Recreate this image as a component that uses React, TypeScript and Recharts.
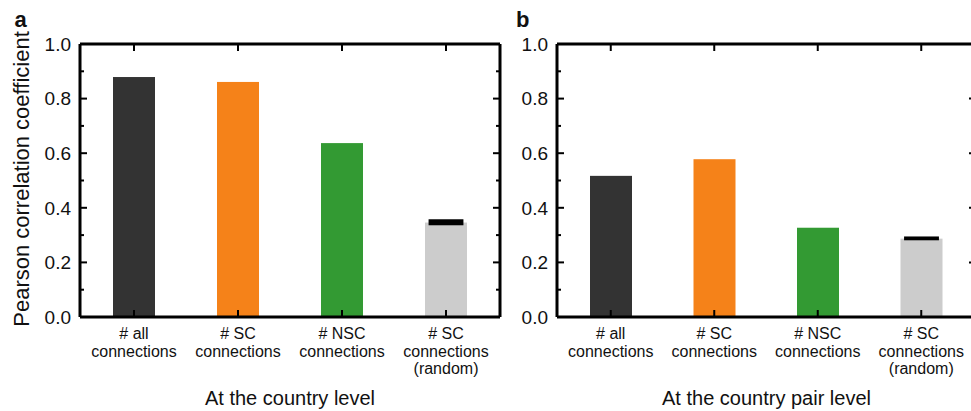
import React from "react";
import { BarChart, Bar, XAxis, YAxis, Cell } from "recharts";

// ---------- data ----------
const categories = ["all", "SC", "NSC", "SC random"];
const categoryLines = [
  ["# all", "connections"],
  ["# SC", "connections"],
  ["# NSC", "connections"],
  ["# SC", "connections", "(random)"],
];
const countryLevel = [0.879, 0.861, 0.637, 0.346];
const countryRandomLow = [null, null, null, 0.336];
const countryRandomHigh = [null, null, null, 0.358];
const countryPairLevel = [0.517, 0.578, 0.327, 0.287];
const countryPairRandomLow = [null, null, null, 0.281];
const countryPairRandomHigh = [null, null, null, 0.295];
const yTicks = [0, 0.1, 0.2, 0.3, 0.4, 0.5, 0.6, 0.7, 0.8, 0.9, 1.0];
const panelTitles = ["At the country level", "At the country pair level"];
const panelLetters = ["a", "b"];
const yAxisTitle = "Pearson correlation coefficient";

// ---------- styles ----------
const barColors = ["#333333", "#f58219", "#339a33", "#cccccc"];
const FONT = '"Liberation Sans", Arial, Helvetica, sans-serif';
const AXIS_W = 3;
const TICK_W = 2;

const buildRows = (values: number[], low: (number | null)[], high: (number | null)[]) =>
  categories.map((name, i) => ({
    name,
    value: values[i],
    low: low[i],
    high: high[i],
  }));

const isMajor = (v: number) => Math.round(v * 10) % 2 === 0;

const BarWithRange = (props: any) => {
  const { x, y, width, height, fill, payload } = props;
  const v = payload.value;
  const base = y + height;
  const pxPerUnit = v ? height / v : 0;
  const hasRange = payload.low != null && payload.high != null;
  const rangeW = width * 0.83;
  return (
    <g>
      <rect x={x} y={y} width={width} height={height} fill={fill} />
      {hasRange && (
        <rect
          x={x + (width - rangeW) / 2}
          y={base - payload.high * pxPerUnit}
          width={rangeW}
          height={(payload.high - payload.low) * pxPerUnit}
          fill="#000"
        />
      )}
    </g>
  );
};

const LeftTick = (props: any) => {
  const { x, y, payload } = props;
  const v = payload.value;
  const major = isMajor(v);
  return (
    <g>
      <line x1={x} x2={x + (major ? 7 : 4)} y1={y} y2={y} stroke="#000" strokeWidth={TICK_W} />
      {major && (
        <text x={x - 9} y={y} dy="0.36em" textAnchor="end" fontSize={19} fontFamily={FONT} fill="#111">
          {v.toFixed(1)}
        </text>
      )}
    </g>
  );
};

const RightTick = (props: any) => {
  const { x, y, payload } = props;
  const major = isMajor(payload.value);
  return <line x1={x} x2={x - (major ? 7 : 4)} y1={y} y2={y} stroke="#000" strokeWidth={TICK_W} />;
};

const BottomTick = (props: any) => {
  const { x, y, payload } = props;
  const idx = categories.indexOf(payload.value);
  const lines = categoryLines[idx] || [];
  return (
    <g>
      <line x1={x} x2={x} y1={y} y2={y - 7} stroke="#000" strokeWidth={TICK_W} />
      <text x={x} y={y + 22} textAnchor="middle" fontSize={16} fontFamily={FONT} fill="#111">
        {lines.map((l, i) => (
          <tspan key={i} x={x} dy={i === 0 ? 0 : 17.5}>
            {l}
          </tspan>
        ))}
      </text>
    </g>
  );
};

const TopTick = (props: any) => {
  const { x, y } = props;
  return <line x1={x} x2={x} y1={y} y2={y + 7} stroke="#000" strokeWidth={TICK_W} />;
};

const xTitle = (text: string) => (p: any) => {
  const vb = p.viewBox || {};
  return (
    <text x={vb.x + vb.width / 2} y={vb.y + 88} textAnchor="middle" fontSize={20} fontFamily={FONT} fill="#111">
      {text}
    </text>
  );
};

const yTitle = (p: any) => {
  const vb = p.viewBox || {};
  const cx = vb.x + 28.5;
  const cy = vb.y + vb.height / 2 - 1.5;
  return (
    <text
      x={cx}
      y={cy}
      transform={`rotate(-90, ${cx}, ${cy})`}
      textAnchor="middle"
      fontSize={22}
      fontFamily={FONT}
      fill="#111"
    >
      {yAxisTitle}
    </text>
  );
};

type PanelProps = {
  values: number[];
  low: (number | null)[];
  high: (number | null)[];
  title: string;
  yAxisWidth: number;
  marginRight: number;
  padLeft: number;
  padRight: number;
  showYTitle: boolean;
};

const Panel = ({ values, low, high, title, yAxisWidth, marginRight, padLeft, padRight, showYTitle }: PanelProps) => {
  const rows = buildRows(values, low, high);
  return (
    <BarChart width={520} height={411} data={rows} margin={{ top: 43, right: marginRight, bottom: 0, left: 0 }}>
      <Bar
        dataKey="value"
        barSize={42}
        isAnimationActive={false}
        xAxisId="bottom"
        yAxisId="left"
        shape={<BarWithRange />}
      >
        {rows.map((r, i) => (
          <Cell key={r.name} fill={barColors[i]} />
        ))}
      </Bar>
      {/* invisible companion series so the top/right frame axes get scales */}
      <Bar
        dataKey="value"
        barSize={42}
        isAnimationActive={false}
        xAxisId="top"
        yAxisId="right"
        fill="none"
        stroke="none"
        legendType="none"
      />
      <XAxis
        xAxisId="bottom"
        dataKey="name"
        orientation="bottom"
        height={94}
        padding={{ left: padLeft, right: padRight }}
        axisLine={{ stroke: "#000", strokeWidth: AXIS_W }}
        tickLine={false}
        tickSize={0}
        tickMargin={0}
        interval={0}
        tick={<BottomTick />}
        label={{ content: xTitle(title) }}
      />
      <XAxis
        xAxisId="top"
        dataKey="name"
        orientation="top"
        height={1}
        padding={{ left: padLeft, right: padRight }}
        axisLine={{ stroke: "#000", strokeWidth: AXIS_W }}
        tickLine={false}
        tickSize={0}
        tickMargin={0}
        interval={0}
        tick={<TopTick />}
      />
      <YAxis
        yAxisId="left"
        orientation="left"
        width={yAxisWidth}
        domain={[0, 1]}
        ticks={yTicks}
        interval={0}
        axisLine={{ stroke: "#000", strokeWidth: AXIS_W }}
        tickLine={false}
        tickSize={0}
        tickMargin={0}
        tick={<LeftTick />}
        label={showYTitle ? { content: yTitle } : undefined}
      />
      <YAxis
        yAxisId="right"
        orientation="right"
        width={1}
        domain={[0, 1]}
        ticks={yTicks}
        interval={0}
        axisLine={{ stroke: "#000", strokeWidth: AXIS_W }}
        tickLine={false}
        tickSize={0}
        tickMargin={0}
        tick={<RightTick />}
      />
    </BarChart>
  );
};

export default function App() {
  return (
    <div
      style={{
        position: "absolute",
        left: 0,
        top: 0,
        width: 971,
        height: 411,
        overflow: "hidden",
        background: "#fff",
      }}
    >
      <div style={{ position: "absolute", left: 0, top: 0 }}>
        <Panel
          values={countryLevel}
          low={countryRandomLow}
          high={countryRandomHigh}
          title={panelTitles[0]}
          yAxisWidth={80}
          marginRight={19}
          padLeft={2}
          padRight={2}
          showYTitle={true}
        />
      </div>
      <div style={{ position: "absolute", left: 480, top: 0 }}>
        <Panel
          values={countryPairLevel}
          low={countryPairRandomLow}
          high={countryPairRandomHigh}
          title={panelTitles[1]}
          yAxisWidth={77}
          marginRight={23}
          padLeft={2}
          padRight={3}
          showYTitle={false}
        />
      </div>
      <svg width={971} height={411} style={{ position: "absolute", left: 0, top: 0, pointerEvents: "none" }}>
        <text x={14.5} y={27} fontSize={22} fontWeight="bold" fontFamily={FONT} fill="#111">
          {panelLetters[0]}
        </text>
        <text x={516} y={27} fontSize={22} fontWeight="bold" fontFamily={FONT} fill="#111">
          {panelLetters[1]}
        </text>
      </svg>
    </div>
  );
}
